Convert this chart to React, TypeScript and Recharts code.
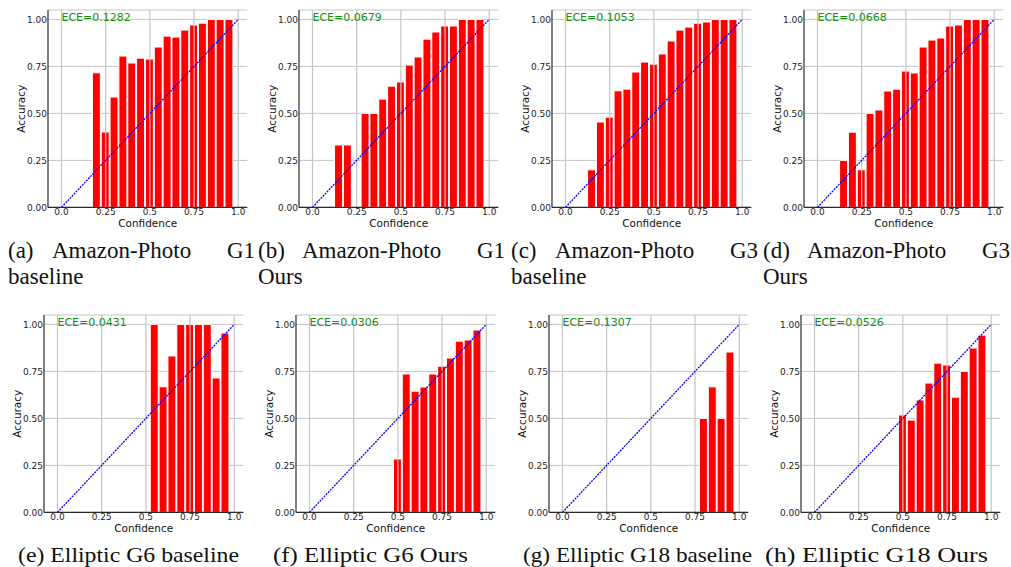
import React from "react";
import {
  ComposedChart,
  Bar,
  XAxis,
  YAxis,
  CartesianGrid,
  ReferenceLine,
  ReferenceDot,
} from "recharts";

// bin centres shared by every reliability diagram
const BIN_CENTERS = [0, 0.05, 0.1, 0.15, 0.2, 0.25, 0.3, 0.35, 0.4, 0.45, 0.5, 0.55, 0.6, 0.65, 0.7, 0.75, 0.8, 0.85, 0.9, 0.95];

const ACC_A = [null, null, null, null, 0.716, 0.401, 0.587, 0.805, 0.768, 0.794, 0.789, 0.853, 0.911, 0.906, 0.943, 0.97, 0.98, 1.0, 1.0, 1.0];
const ACC_B = [null, null, null, 0.332, 0.332, null, 0.5, 0.5, 0.576, 0.645, 0.667, 0.757, 0.8, 0.895, 0.933, 0.965, 0.965, 1.0, 1.0, 1.0];
const ACC_C = [null, null, null, 0.2, 0.454, 0.48, 0.62, 0.629, 0.72, 0.773, 0.762, 0.816, 0.885, 0.943, 0.959, 0.98, 0.986, 1.0, 1.0, 1.0];
const ACC_D = [null, null, null, 0.25, 0.4, 0.2, 0.5, 0.518, 0.619, 0.629, 0.725, 0.715, 0.853, 0.89, 0.901, 0.965, 0.97, 1.0, 1.0, 1.0];
const ACC_E = [null, null, null, null, null, null, null, null, null, null, null, 1.0, 0.668, 0.832, 1.0, 1.0, 1.0, 1.0, 0.715, 0.954];
const ACC_F = [null, null, null, null, null, null, null, null, null, null, 0.284, 0.736, 0.645, 0.667, 0.736, 0.778, 0.821, 0.911, 0.917, 0.97];
const ACC_G = [null, null, null, null, null, null, null, null, null, null, null, null, null, null, null, null, 0.5, 0.668, 0.5, 0.853];
const ACC_H = [null, null, null, null, null, null, null, null, null, null, 0.518, 0.491, 0.598, 0.688, 0.794, 0.784, 0.613, 0.75, 0.874, 0.943];

const ECE_LABELS = ["ECE=0.1282", "ECE=0.0679", "ECE=0.1053", "ECE=0.0668", "ECE=0.0431", "ECE=0.0306", "ECE=0.1307", "ECE=0.0526"];

const X_TICKS = [0, 0.25, 0.5, 0.75, 1];
const X_TICK_LABELS = ["0.0", "0.25", "0.5", "0.75", "1.0"];
const Y_TICKS = [0, 0.25, 0.5, 0.75, 1];

const TOP_TAGS = ["(a)", "(b)", "(c)", "(d)"];
const TOP_DATASET = ["Amazon-Photo", "Amazon-Photo", "Amazon-Photo", "Amazon-Photo"];
const TOP_GROUP = ["G1", "G1", "G3", "G3"];
const TOP_METHOD = ["baseline", "Ours", "baseline", "Ours"];
const BOTTOM_CAPTIONS = [
  "(e) Elliptic G6 baseline",
  "(f) Elliptic G6 Ours",
  "(g) Elliptic G18 baseline",
  "(h) Elliptic G18 Ours",
];

const X_MIN = -0.07625;
const X_MAX = 1.05125;
const PLOT_W = 199.3;
const PLOT_H = 197.4;
const M_LEFT = 8;
const Y_AXIS_W = 40;
const M_TOP = 9;
const M_RIGHT = 4;
const X_AXIS_H = 25;
const CHART_W = M_LEFT + Y_AXIS_W + PLOT_W + M_RIGHT;
const CHART_H = M_TOP + PLOT_H + X_AXIS_H;
const BAR_PX = (0.05 * PLOT_W) / (X_MAX - X_MIN);

const FRAME = "#2a2a2a";
const GRID = "#c4c4c4";
const SERIF = "'Liberation Serif', 'Times New Roman', serif";

function YLabel(props: any) {
  const { viewBox } = props;
  const x = viewBox.x + 13;
  const y = viewBox.y + viewBox.height / 2;
  return (
    <text x={x} y={y} transform={`rotate(-90 ${x} ${y})`} textAnchor="middle" dominantBaseline="central" fontSize={10.5} fill="#111">
      Accuracy
    </text>
  );
}

function XLabel(props: any) {
  const { viewBox } = props;
  return (
    <text x={viewBox.x + viewBox.width / 2} y={viewBox.y + 15.5} textAnchor="middle" dominantBaseline="central" fontSize={10.5} fill="#111">
      Confidence
    </text>
  );
}

function EceLabel(props: any) {
  const { viewBox, value } = props;
  return (
    <text x={viewBox.x} y={viewBox.y + 1.5} fontSize={11} fill="#138f13">
      {value}
    </text>
  );
}

function Panel({ left, plotTop, acc, ece }: { left: number; plotTop: number; acc: (number | null)[]; ece: string }) {
  const data = BIN_CENTERS.map((c, i) => ({ conf: c, acc: acc[i] }));
  return (
    <div style={{ position: "absolute", left: left - M_LEFT - Y_AXIS_W, top: plotTop - M_TOP }}>
      <ComposedChart width={CHART_W} height={CHART_H} data={data} margin={{ top: M_TOP, right: M_RIGHT, bottom: 0, left: M_LEFT }}>
        <CartesianGrid vertical={false} stroke={GRID} strokeWidth={1} />
        <XAxis
          dataKey="conf"
          type="number"
          domain={[X_MIN, X_MAX]}
          ticks={X_TICKS}
          allowDataOverflow
          tickFormatter={(v: number) => X_TICK_LABELS[X_TICKS.indexOf(v)]}
          height={X_AXIS_H}
          tickLine={false}
          tickSize={0}
          tickMargin={1}
          axisLine={{ stroke: FRAME, strokeWidth: 1.2 }}
          tick={{ fontSize: 9, fill: "#222" }}
          interval={0}
          label={<XLabel />}
        />
        <YAxis
          type="number"
          domain={[0, 1.05]}
          ticks={Y_TICKS}
          allowDataOverflow
          tickFormatter={(v: number) => v.toFixed(2)}
          width={Y_AXIS_W}
          tickLine={false}
          tickSize={0}
          tickMargin={1}
          axisLine={{ stroke: FRAME, strokeWidth: 1.2 }}
          tick={{ fontSize: 9, fill: "#222" }}
          interval={0}
          label={<YLabel />}
        />
        <XAxis xAxisId="top" orientation="top" type="number" domain={[X_MIN, X_MAX]} height={0} tick={false} tickLine={false} axisLine={{ stroke: FRAME, strokeWidth: 1.2 }} />
        <YAxis yAxisId="right" orientation="right" type="number" domain={[0, 1.05]} width={0} tick={false} tickLine={false} axisLine={{ stroke: FRAME, strokeWidth: 1.2 }} />
        <Bar dataKey="acc" fill="#ff0000" stroke="#ffffff" strokeWidth={1} barSize={BAR_PX} isAnimationActive={false} />
        {X_TICKS.map((t) => (
          <ReferenceLine key={t} x={t} stroke={GRID} strokeWidth={1.2} />
        ))}
        <ReferenceLine
          segment={[
            { x: 0, y: 0 },
            { x: 1, y: 1 },
          ]}
          stroke="#0000ff"
          strokeWidth={1.3}
          strokeDasharray="2 1"
        />
        <ReferenceDot x={0} y={1} r={0} fill="none" stroke="none" label={<EceLabel value={ece} />} />
      </ComposedChart>
    </div>
  );
}

const TOP_LEFTS = [47.5, 299.2, 552.2, 804.2];
const BOTTOM_LEFTS = [44.2, 296.2, 548.5, 800.5];
const TOP_ACC = [ACC_A, ACC_B, ACC_C, ACC_D];
const BOTTOM_ACC = [ACC_E, ACC_F, ACC_G, ACC_H];
const TOP_CAPTION_X = [8, 258, 511, 763];
const BOTTOM_CAPTION_X = [18, 273, 523, 765];
const BOTTOM_CAPTION_W = [221, 195, 229, 223];

export default function App() {
  return (
    <div style={{ position: "absolute", left: 0, top: 0, width: 1011, height: 567, background: "#fff", fontFamily: "'DejaVu Sans', sans-serif", overflow: "hidden" }}>
      {TOP_LEFTS.map((l, i) => (
        <Panel key={"t" + i} left={l} plotTop={10} acc={TOP_ACC[i]} ece={ECE_LABELS[i]} />
      ))}
      {BOTTOM_LEFTS.map((l, i) => (
        <Panel key={"b" + i} left={l} plotTop={315} acc={BOTTOM_ACC[i]} ece={ECE_LABELS[i + 4]} />
      ))}
      <svg width={1011} height={567} style={{ position: "absolute", left: 0, top: 0, pointerEvents: "none" }}>
        <g fontFamily={SERIF} fontSize={23} fill="#111">
          {TOP_TAGS.map((t, i) => (
            <g key={t}>
              <text x={TOP_CAPTION_X[i]} y={258}>{t}</text>
              <text x={TOP_CAPTION_X[i] + 44} y={258}>{TOP_DATASET[i]}</text>
              <text x={TOP_CAPTION_X[i] + 247} y={258} textAnchor="end">{TOP_GROUP[i]}</text>
              <text x={TOP_CAPTION_X[i]} y={283.5}>{TOP_METHOD[i]}</text>
            </g>
          ))}
        </g>
        {BOTTOM_CAPTIONS.map((c, i) => (
          <text
            key={c}
            x={BOTTOM_CAPTION_X[i]}
            y={562}
            textLength={BOTTOM_CAPTION_W[i]}
            lengthAdjust="spacingAndGlyphs"
            fontFamily={SERIF}
            fontSize={21}
            fill="#111"
          >
            {c}
          </text>
        ))}
      </svg>
    </div>
  );
}
